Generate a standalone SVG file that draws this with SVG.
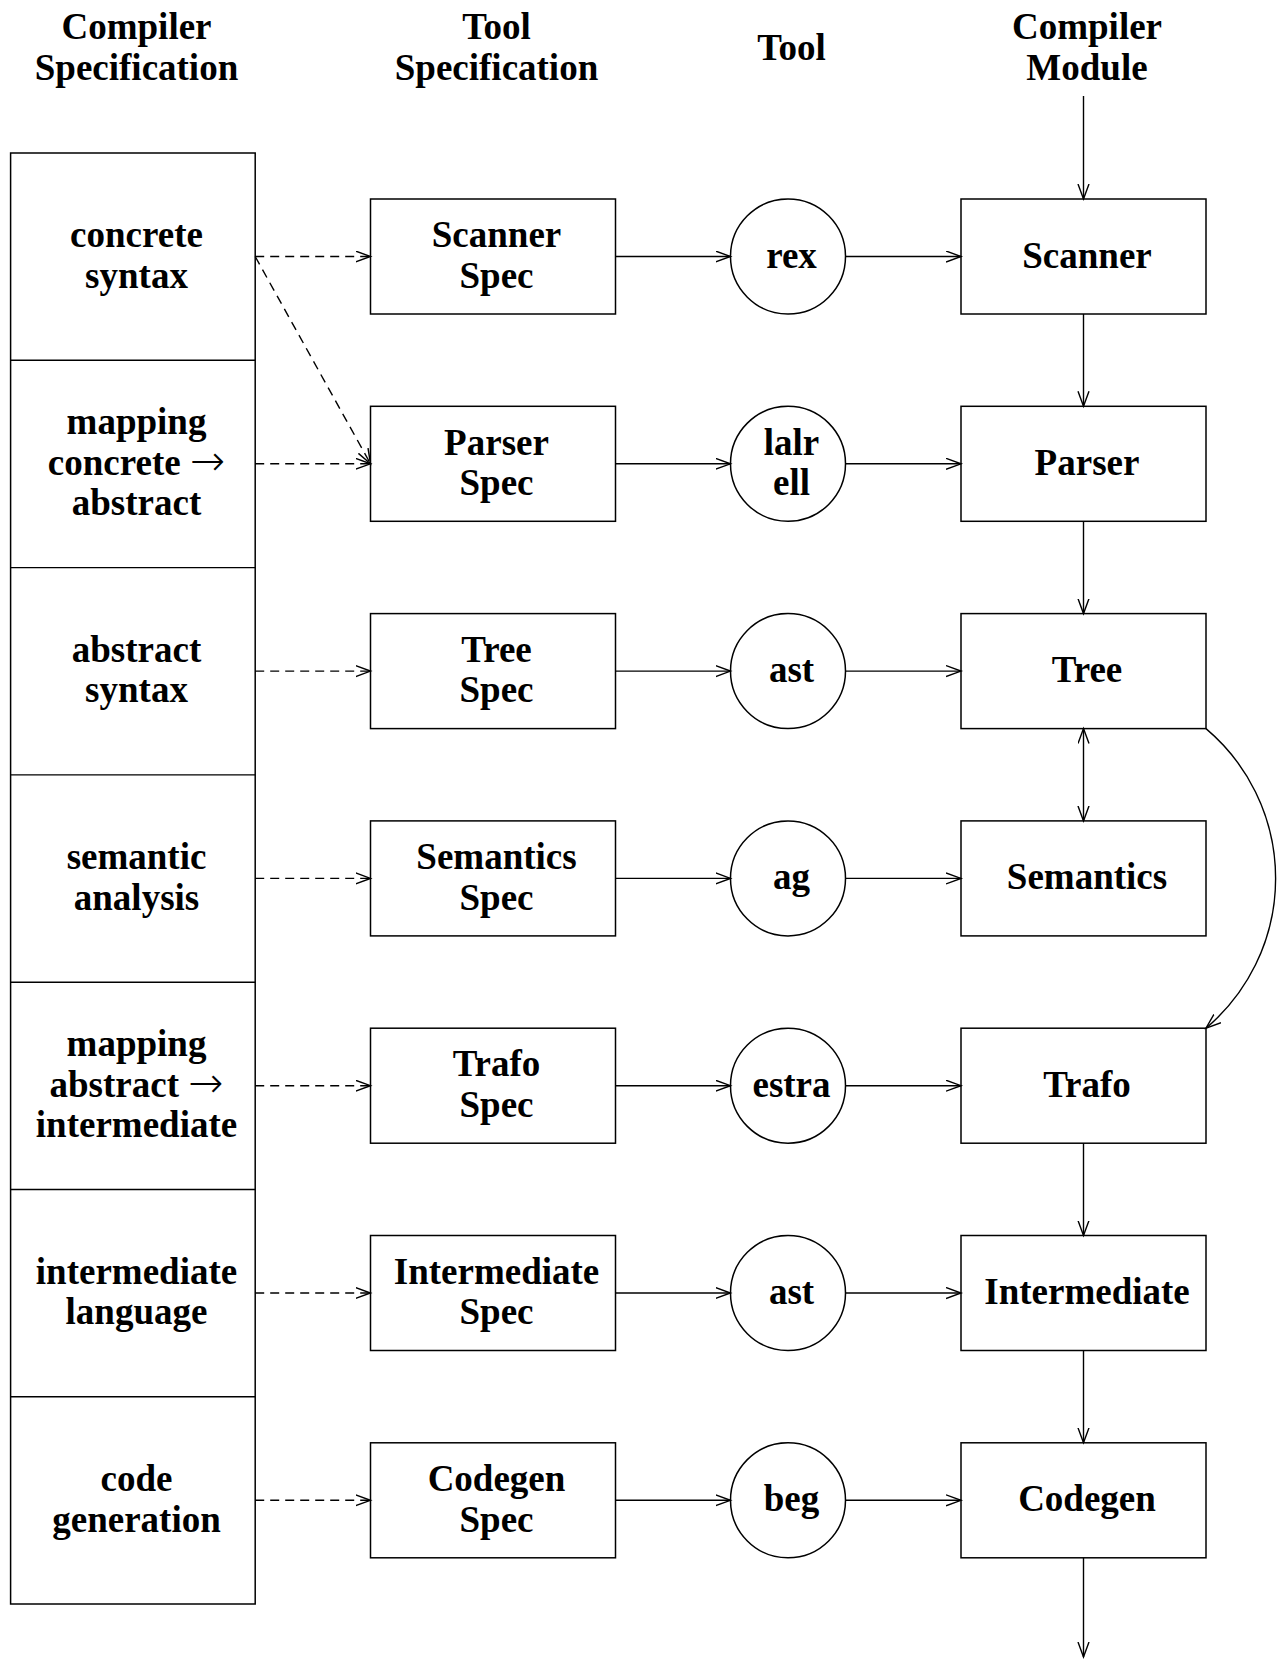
<svg xmlns="http://www.w3.org/2000/svg" width="1282" height="1659" viewBox="0 0 1282 1659">
<style>
text{font-family:"Liberation Serif","Times New Roman",serif;font-weight:bold;font-size:37px;text-anchor:middle;fill:#000}
.arr{font-family:"DejaVu Sans",sans-serif;font-weight:200;font-size:42px}
.box{fill:#fff;stroke:#000;stroke-width:1.5}
.ln{fill:none;stroke:#000;stroke-width:1.4}
.dash{stroke-dasharray:9 6}
</style>
<defs>
<marker id="ah" markerUnits="userSpaceOnUse" markerWidth="18" markerHeight="14" refX="15" refY="6" orient="auto-start-reverse">
<path d="M0,0.5 L15,6 L0,11.5" fill="none" stroke="#000" stroke-width="1.4"/>
</marker>
</defs>
<rect width="1282" height="1659" fill="#fff"/>
<g id="headers">
<text x="136.5" y="39">Compiler</text><text x="136.5" y="80">Specification</text>
<text x="496.5" y="39">Tool</text><text x="496.5" y="80">Specification</text>
<text x="791.5" y="60">Tool</text>
<text x="1087" y="39">Compiler</text><text x="1087" y="80">Module</text>
</g>
<g id="compiler-spec">
<rect class="box" x="10.6" y="153" width="244.6" height="1451"/>
<path class="ln" d="M10.6 360.3H255.2M10.6 567.6H255.2M10.6 774.9H255.2M10.6 982.2H255.2M10.6 1189.5H255.2M10.6 1396.8H255.2"/>
<text x="136.5" y="247.2">concrete</text><text x="136.5" y="287.7">syntax</text>
<text x="136.5" y="434.3">mapping</text><text x="136.5" y="474.8">concrete <tspan class="arr">→</tspan></text><text x="136.5" y="515.3">abstract</text>
<text x="136.5" y="661.8">abstract</text><text x="136.5" y="702.3">syntax</text>
<text x="136.5" y="869.1">semantic</text><text x="136.5" y="909.6">analysis</text>
<text x="136.5" y="1056.2">mapping</text><text x="136.5" y="1096.7">abstract <tspan class="arr">→</tspan></text><text x="136.5" y="1137.2">intermediate</text>
<text x="136.5" y="1283.7">intermediate</text><text x="136.5" y="1324.2">language</text>
<text x="136.5" y="1491">code</text><text x="136.5" y="1531.5">generation</text>
</g>
<g id="scanner-spec"><rect class="box" x="370.5" y="199" width="245" height="115"/><text x="496.5" y="247.2">Scanner</text><text x="496.5" y="287.7">Spec</text></g>
<g id="parser-spec"><rect class="box" x="370.5" y="406.3" width="245" height="115"/><text x="496.5" y="454.5">Parser</text><text x="496.5" y="495">Spec</text></g>
<g id="tree-spec"><rect class="box" x="370.5" y="613.6" width="245" height="115"/><text x="496.5" y="661.8">Tree</text><text x="496.5" y="702.3">Spec</text></g>
<g id="semantics-spec"><rect class="box" x="370.5" y="820.9" width="245" height="115"/><text x="496.5" y="869.1">Semantics</text><text x="496.5" y="909.6">Spec</text></g>
<g id="trafo-spec"><rect class="box" x="370.5" y="1028.2" width="245" height="115"/><text x="496.5" y="1076.4">Trafo</text><text x="496.5" y="1116.9">Spec</text></g>
<g id="intermediate-spec"><rect class="box" x="370.5" y="1235.5" width="245" height="115"/><text x="496.5" y="1283.7">Intermediate</text><text x="496.5" y="1324.2">Spec</text></g>
<g id="codegen-spec"><rect class="box" x="370.5" y="1442.8" width="245" height="115"/><text x="496.5" y="1491">Codegen</text><text x="496.5" y="1531.5">Spec</text></g>
<g id="tool-rex"><circle class="box" cx="788" cy="256.5" r="57.5"/><text x="791.5" y="267.5">rex</text></g>
<g id="tool-lalr"><circle class="box" cx="788" cy="463.8" r="57.5"/><text x="791.5" y="454.5">lalr</text><text x="791.5" y="495">ell</text></g>
<g id="tool-ast1"><circle class="box" cx="788" cy="671.1" r="57.5"/><text x="791.5" y="682.1">ast</text></g>
<g id="tool-ag"><circle class="box" cx="788" cy="878.4" r="57.5"/><text x="791.5" y="889.4">ag</text></g>
<g id="tool-estra"><circle class="box" cx="788" cy="1085.7" r="57.5"/><text x="791.5" y="1096.7">estra</text></g>
<g id="tool-ast2"><circle class="box" cx="788" cy="1293" r="57.5"/><text x="791.5" y="1304">ast</text></g>
<g id="tool-beg"><circle class="box" cx="788" cy="1500.3" r="57.5"/><text x="791.5" y="1511.3">beg</text></g>
<g id="mod-scanner"><rect class="box" x="961" y="199" width="245" height="115"/><text x="1087" y="267.5">Scanner</text></g>
<g id="mod-parser"><rect class="box" x="961" y="406.3" width="245" height="115"/><text x="1087" y="474.8">Parser</text></g>
<g id="mod-tree"><rect class="box" x="961" y="613.6" width="245" height="115"/><text x="1087" y="682.1">Tree</text></g>
<g id="mod-semantics"><rect class="box" x="961" y="820.9" width="245" height="115"/><text x="1087" y="889.4">Semantics</text></g>
<g id="mod-trafo"><rect class="box" x="961" y="1028.2" width="245" height="115"/><text x="1087" y="1096.7">Trafo</text></g>
<g id="mod-intermediate"><rect class="box" x="961" y="1235.5" width="245" height="115"/><text x="1087" y="1304">Intermediate</text></g>
<g id="mod-codegen"><rect class="box" x="961" y="1442.8" width="245" height="115"/><text x="1087" y="1511.3">Codegen</text></g>
<g id="connectors">
<g class="ln dash" marker-end="url(#ah)">
<path d="M255.2 256.5H370.5"/>
<path d="M255.2 256.5L370.5 463.8"/>
<path d="M255.2 463.8H370.5"/>
<path d="M255.2 671.1H370.5"/>
<path d="M255.2 878.4H370.5"/>
<path d="M255.2 1085.7H370.5"/>
<path d="M255.2 1293H370.5"/>
<path d="M255.2 1500.3H370.5"/>
</g>
<g class="ln" marker-end="url(#ah)">
<path d="M615.5 256.5H730.5"/><path d="M845.5 256.5H961"/>
<path d="M615.5 463.8H730.5"/><path d="M845.5 463.8H961"/>
<path d="M615.5 671.1H730.5"/><path d="M845.5 671.1H961"/>
<path d="M615.5 878.4H730.5"/><path d="M845.5 878.4H961"/>
<path d="M615.5 1085.7H730.5"/><path d="M845.5 1085.7H961"/>
<path d="M615.5 1293H730.5"/><path d="M845.5 1293H961"/>
<path d="M615.5 1500.3H730.5"/><path d="M845.5 1500.3H961"/>
<path d="M1083.5 96V199"/>
<path d="M1083.5 314V406.3"/>
<path d="M1083.5 521.3V613.6"/>
<path d="M1083.5 1143.2V1235.5"/>
<path d="M1083.5 1350.5V1442.8"/>
<path d="M1083.5 1557.8V1657"/>
<path d="M1206 728.6A196 196 0 0 1 1206 1028.2"/>
</g>
<path class="ln" d="M1083.5 728.6V820.9" marker-start="url(#ah)" marker-end="url(#ah)"/>
</g>
</svg>
